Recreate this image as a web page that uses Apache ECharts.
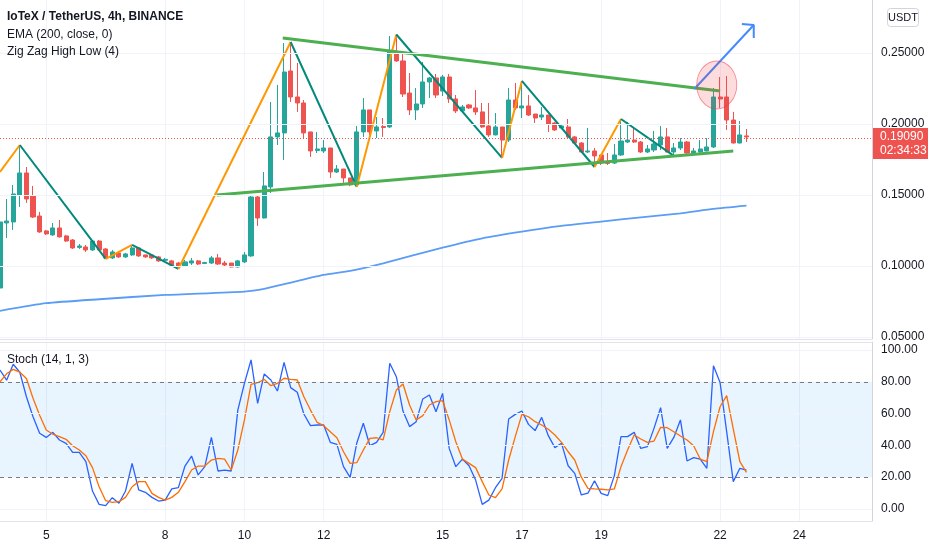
<!DOCTYPE html>
<html><head><meta charset="utf-8">
<script src="https://cdn.jsdelivr.net/npm/echarts@6/dist/echarts.min.js"></script>
<style>html,body{margin:0;padding:0;background:#fff}#c{width:932px;height:550px}</style>
</head><body><div id="c"></div>
<script>
// ---------- DATA ----------
// candles: [open, close, low, high]
const ohlc = [
[0.0845,0.1310,0.0831,0.1310],[0.1303,0.1317,0.1197,0.1472],[0.1310,0.1507,0.1254,0.1571],[0.1500,0.1655,0.1416,0.1852],[0.1655,0.1472,0.1444,0.1697],
[0.1493,0.1345,0.1338,0.1564],[0.1352,0.1240,0.1233,0.1381],[0.1247,0.1226,0.1219,0.1254],[0.1219,0.1268,0.1212,0.1303],[0.1268,0.1205,0.1200,0.1324],
[0.1212,0.1176,0.1169,0.1219],[0.1183,0.1127,0.1120,0.1190],[0.1131,0.1141,0.1120,0.1155],[0.1134,0.1113,0.1099,0.1148],[0.1113,0.1176,0.1106,0.1183],
[0.1176,0.1113,0.1106,0.1183],[0.1120,0.1057,0.1050,0.1127],[0.1057,0.1099,0.1050,0.1113],[0.1092,0.1064,0.1057,0.1099],[0.1064,0.1085,0.1057,0.1092],
[0.1078,0.1127,0.1071,0.1148],[0.1127,0.1071,0.1064,0.1134],[0.1078,0.1064,0.1057,0.1078],[0.1078,0.1057,0.1050,0.1085],[0.1064,0.1036,0.1029,0.1071],
[0.1040,0.1047,0.1029,0.1057],[0.1036,0.1007,0.1000,0.1043],[0.1021,0.0993,0.0979,0.1029],[0.1000,0.1029,0.0993,0.1043],[0.1021,0.1036,0.1007,0.1057],
[0.1036,0.1014,0.1007,0.1043],[0.1018,0.1025,0.1014,0.1029],[0.1021,0.1057,0.1014,0.1071],[0.1057,0.1014,0.1007,0.1085],[0.1021,0.1007,0.1000,0.1036],
[0.1021,0.0993,0.0990,0.1021],[0.0993,0.1036,0.0990,0.1043],[0.1029,0.1078,0.1021,0.1099],[0.1071,0.1486,0.1065,0.1500],[0.1486,0.1338,0.1282,0.1493],
[0.1338,0.1564,0.1335,0.1662],[0.1557,0.1909,0.1514,0.2155],[0.1909,0.1937,0.1852,0.2275],[0.1937,0.2366,0.1747,0.2570],[0.2373,0.2190,0.2155,0.2577],
[0.2190,0.2148,0.2085,0.2430],[0.2148,0.1937,0.1901,0.2169],[0.1944,0.1810,0.1768,0.1944],[0.1814,0.1824,0.1796,0.1944],[0.1810,0.1831,0.1796,0.1887],
[0.1831,0.1662,0.1620,0.1831],[0.1662,0.1683,0.1655,0.1711],[0.1683,0.1620,0.1585,0.1683],[0.1620,0.1571,0.1562,0.1620],[0.1571,0.1944,0.1557,0.1986],
[0.1944,0.2099,0.1909,0.2183],[0.2099,0.1944,0.1901,0.2099],[0.1951,0.1979,0.1901,0.2049],[0.1982,0.1975,0.1909,0.2042],[0.1979,0.2507,0.1972,0.2620],
[0.2507,0.2444,0.2437,0.2630],[0.2444,0.2211,0.2190,0.2500],[0.2218,0.2099,0.2063,0.2359],[0.2099,0.2141,0.2028,0.2253],[0.2141,0.2296,0.2113,0.2437],
[0.2296,0.2324,0.2183,0.2331],[0.2324,0.2204,0.2183,0.2352],[0.2232,0.2331,0.2197,0.2345],[0.2331,0.2176,0.2148,0.2352],[0.2176,0.2092,0.2077,0.2204],
[0.2092,0.2120,0.2085,0.2134],[0.2134,0.2113,0.2106,0.2141],[0.2113,0.2085,0.2063,0.2239],[0.2085,0.1979,0.1972,0.2148],[0.1986,0.1923,0.1909,0.2148],
[0.1923,0.1979,0.1920,0.2077],[0.1979,0.1887,0.1761,0.1979],[0.1887,0.2169,0.1873,0.2253],[0.2169,0.2113,0.2099,0.2289],[0.2113,0.2127,0.2042,0.2303],
[0.2127,0.2063,0.2056,0.2204],[0.2070,0.2042,0.2007,0.2070],[0.2049,0.2063,0.2028,0.2120],[0.2063,0.2000,0.1944,0.2063],[0.2007,0.1958,0.1951,0.2014],
[0.1972,0.1986,0.1965,0.1993],[0.1979,0.1909,0.1901,0.2035],[0.1909,0.1866,0.1859,0.1916],[0.1866,0.1803,0.1796,0.1873],[0.1803,0.1810,0.1796,0.1972],
[0.1810,0.1775,0.1697,0.1831],[0.1782,0.1725,0.1711,0.1782],[0.1733,0.1722,0.1711,0.1796],[0.1725,0.1782,0.1718,0.1859],[0.1782,0.1880,0.1775,0.2035],
[0.1873,0.1887,0.1866,0.2014],[0.1887,0.1873,0.1866,0.1979],[0.1873,0.1803,0.1796,0.1880],[0.1803,0.1824,0.1796,0.1852],[0.1817,0.1859,0.1803,0.1951],
[0.1852,0.1909,0.1817,0.1986],[0.1909,0.1803,0.1800,0.1972],[0.1803,0.1831,0.1775,0.1866],[0.1831,0.1873,0.1817,0.1901],[0.1873,0.1796,0.1789,0.1880],
[0.1796,0.1810,0.1789,0.1831],[0.1803,0.1824,0.1796,0.1887],[0.1810,0.1838,0.1807,0.1901],[0.1838,0.2190,0.1831,0.2253],[0.2190,0.2176,0.2113,0.2331],
[0.2190,0.2028,0.1958,0.2338],[0.2028,0.1866,0.1863,0.2085],[0.1866,0.1923,0.1863,0.2021],[0.1916,0.1909,0.1873,0.1965]
];
// EMA(200) read points: [candle index, value]
const ema = [[0,0.0684],[7,0.0738],[15,0.0766],[25,0.0796],[37,0.0820],[40,0.0839],[43,0.0872],[49,0.0937],[53,0.0965],[58,0.1019],
[67,0.1129],[73,0.1195],[79,0.1242],[85,0.1282],[91,0.1312],[97,0.1343],[103,0.1371],[108,0.1402],[113,0.1425]];
// Zig Zag pivots
const zzIdx = [0,3,16,20,27,44,54,60,76,79,90,94,102];
const zzVal = [0.1662,0.1852,0.1050,0.1148,0.0979,0.2577,0.1557,0.2630,0.1761,0.2303,0.1697,0.2035,0.1775];
// Drawings (candle index, price)
const trendUpper = [[42.8,0.2605],[109.0,0.2232]];
const trendLower = [[32.8,0.1500],[111.0,0.1810]];
const arrowShaft = [[105.1,0.2246],[114.1,0.2697]];
const arrowHead = [[112.3,0.2704],[114.1,0.2697],[114.1,0.2605]];
const circlePt = [[108.5,0.2275]];
// Stochastic
const stochK = [87.4,81,91,86,70.6,58,47.6,45,48.2,43.4,
41.3,35.6,35.6,29.8,11.3,2.9,2.1,7.1,3.6,11.3,
28.7,12,10.5,7.3,5,5.6,12.6,13.4,27,33.3,
21.4,26.6,45,23.9,24.5,23.9,62.2,79,93.7,66.4,
84.9,81.1,74.2,92.2,76.3,73.4,59.7,52.4,52.8,52.8,
41.9,40.6,26.6,19.9,41.3,53.9,39.8,41.9,48.2,91.6,
83.2,61.6,51.8,54.9,69.2,71.7,61.2,72.7,38.1,26.6,
31.4,27.2,18.2,2.9,5.6,13.4,19.3,56.6,59.5,61.6,
53.2,49.3,57.6,46.1,38.6,41.3,27.2,22.4,8.8,10,
17.8,9.8,8.4,21,45.5,45.5,48.2,38.1,39.2,50.7,
63.7,38.1,45,56,30.2,32.3,31.4,25.6,90.1,79.6,
48.6,17.2,25.6,24.5];
const stochD = [80,85,87.8,86,82,69.6,59,49.7,47,45.5,
43.8,39.8,37.1,33.5,26,14,5.2,4.2,4.6,7.3,
14,17.2,17.2,9.8,7.3,5.6,7.3,10.5,17.2,24.5,
27,27,30.8,31.8,31.4,24.5,37.1,56,78.4,79.4,
81.5,77.5,79,82.2,81.5,81.1,70.6,62.2,54.5,52.4,
48.6,44.8,36,28.7,29.1,37.1,44.4,44.8,43.4,61.2,
74.8,78.6,65.4,56,58.7,65.4,67.5,68.1,56,42.3,
31.4,28.7,26,17.2,8.8,7.1,12.6,30.8,45.5,59.5,
58,54.9,52.8,50.1,46.5,41.9,36,30.8,20,13,
12.6,12.4,12,12.6,26.6,37.1,46.5,44,41.9,42.7,
51.3,51.1,48.6,45.9,43.4,39.8,31.4,29.8,48.6,64.3,
71.3,50.3,29.8,23];
// Axis ticks
const priceTicks = [0.05,0.10,0.15,0.20,0.25];
const stochTicks = [0,20,40,60,80,100];
const dayTicks = ['5','8','10','12','15','17','19','22','24'];
const slotCount = 133; // candle slots incl. empty space on right
// categories: 4h candles, first candle = day 3 20:00
const cats = [];
for (let i = 0; i < slotCount; i++) {
  const h = (i - 1) * 4;
  const day = 4 + Math.floor(h / 24);
  const hr = ((h % 24) + 24) % 24;
  cats.push(day + ' ' + String(hr).padStart(2,'0') + ':00');
}
const isDayTick = (idx) => { const c = cats[idx]; if (!c) return false; const p = c.split(' '); return p[1] === '00:00' && dayTicks.indexOf(p[0]) >= 0; };

// ---------- CHART ----------
const FONT = "'Liberation Sans Narrow','Liberation Sans',Arial,sans-serif";
const TXT = '#131722', GRID = '#f0f3fa', BORDER = '#e0e3eb';
const chart = echarts.init(document.getElementById('c'), null, {renderer:'canvas'});

const zigzagSeries = [];
for (let k = 0; k < zzIdx.length - 1; k++) {
  const up = zzVal[k+1] > zzVal[k];
  zigzagSeries.push({type:'line', xAxisIndex:0, yAxisIndex:0, silent:true, symbol:'none', z:3,
    data:[[zzIdx[k], zzVal[k]],[zzIdx[k+1], zzVal[k+1]]],
    lineStyle:{color: up ? '#ff9800' : '#00897b', width:2}});
}
const lastClose = ohlc[ohlc.length-1][1];

const option = {
  animation:false,
  textStyle:{fontFamily:FONT},
  grid:[{left:0,right:60,top:0,height:339},{left:0,right:60,top:342,height:179}],
  xAxis:[
    {type:'category',gridIndex:0,data:cats,boundaryGap:false,axisLine:{show:true,onZero:false,lineStyle:{color:BORDER}},axisTick:{show:false},axisLabel:{show:false},
     splitLine:{show:true,interval:(i)=>isDayTick(i),lineStyle:{color:GRID,width:1}}},
    {type:'category',gridIndex:1,data:cats,boundaryGap:false,axisLine:{show:true,onZero:false,lineStyle:{color:BORDER}},axisTick:{show:false},
     axisLabel:{show:true,interval:(i)=>isDayTick(i),formatter:(v)=>v.split(' ')[0],color:TXT,fontSize:12,margin:9,fontFamily:FONT},
     splitLine:{show:true,interval:(i)=>isDayTick(i),lineStyle:{color:GRID,width:1}}},
    {type:'value',gridIndex:0,min:0,max:slotCount-1,show:false},
    {type:'category',gridIndex:1,data:cats,position:'top',boundaryGap:false,axisLine:{show:true,onZero:false,lineStyle:{color:BORDER}},axisTick:{show:false},axisLabel:{show:false},splitLine:{show:false}}
  ],
  yAxis:[
    {type:'value',gridIndex:0,position:'right',min:0.0486,max:0.2873,axisLine:{show:true,onZero:false,lineStyle:{color:'#d1d4dc'}},axisTick:{show:false},splitLine:{show:false},
     axisLabel:{customValues:priceTicks,formatter:(v)=>v.toFixed(5),color:TXT,fontSize:12,margin:9,fontFamily:FONT}},
    {type:'value',gridIndex:1,position:'right',min:-7.55,max:105,axisLine:{show:true,onZero:false,lineStyle:{color:'#d1d4dc'}},axisTick:{show:false},splitLine:{show:false},
     axisLabel:{customValues:stochTicks,formatter:(v)=>v.toFixed(2),color:TXT,fontSize:12,margin:9,fontFamily:FONT}}
  ],
  series:[
    {type:'line',xAxisIndex:0,yAxisIndex:0,data:[],silent:true,z:0,
     markLine:{silent:true,symbol:'none',label:{show:false},lineStyle:{color:GRID,type:'solid',width:1},data:priceTicks.map(v=>({yAxis:v}))}},
    {type:'line',xAxisIndex:1,yAxisIndex:1,data:[],silent:true,z:0,
     markArea:{silent:true,itemStyle:{color:'rgba(33,150,243,0.1)'},data:[[{yAxis:20},{yAxis:80}]]},
     markLine:{silent:true,symbol:'none',label:{show:false},data:[
       {yAxis:100,lineStyle:{color:GRID,type:'solid',width:1}},
       {yAxis:60,lineStyle:{color:GRID,type:'solid',width:1}},
       {yAxis:40,lineStyle:{color:GRID,type:'solid',width:1}},
       {yAxis:0,lineStyle:{color:GRID,type:'solid',width:1}},
       {yAxis:80,lineStyle:{color:'#787b86',type:[4,4],width:1}},
       {yAxis:20,lineStyle:{color:'#787b86',type:[4,4],width:1}}]}},
    {type:'candlestick',name:'IOTXUSDT',xAxisIndex:0,yAxisIndex:0,data:ohlc,barWidth:4.6,z:2,
     itemStyle:{color:'#26a69a',color0:'#ef5350',borderColor:'#26a69a',borderColor0:'#ef5350',borderWidth:1},
     markLine:{silent:true,symbol:'none',label:{show:false},lineStyle:{color:'#ef5350',type:[1,2],width:1},data:[{yAxis:lastClose}]}},
    {type:'line',name:'EMA',xAxisIndex:0,yAxisIndex:0,data:ema,symbol:'none',smooth:0.2,silent:true,z:3,
     lineStyle:{color:'#5b9cf6',width:1.8}},
    ...zigzagSeries,
    {type:'line',xAxisIndex:2,yAxisIndex:0,data:trendUpper,symbol:'none',silent:true,z:4,lineStyle:{color:'#4caf50',width:3}},
    {type:'line',xAxisIndex:2,yAxisIndex:0,data:trendLower,symbol:'none',silent:true,z:4,lineStyle:{color:'#4caf50',width:3}},
    {type:'line',xAxisIndex:2,yAxisIndex:0,data:arrowShaft,symbol:'none',silent:true,z:5,lineStyle:{color:'#448aff',width:2}},
    {type:'line',xAxisIndex:2,yAxisIndex:0,data:arrowHead,symbol:'none',silent:true,z:5,lineStyle:{color:'#448aff',width:2}},
    {type:'scatter',xAxisIndex:2,yAxisIndex:0,data:circlePt,symbol:'circle',symbolSize:[40,48],silent:true,z:5,
     itemStyle:{color:'rgba(242,54,69,0.22)',borderColor:'rgba(242,54,69,0.65)',borderWidth:1}},
    {type:'line',name:'%K',xAxisIndex:1,yAxisIndex:1,data:stochK,symbol:'none',silent:true,z:3,lineStyle:{color:'#2962ff',width:1.3}},
    {type:'line',name:'%D',xAxisIndex:1,yAxisIndex:1,data:stochD,symbol:'none',silent:true,z:4,lineStyle:{color:'#ff6d00',width:1.3}}
  ]
};
chart.setOption(option);
// place the last-price tag where the library's price scale puts the last close
const py = chart.convertToPixel({yAxisIndex:0}, lastClose);
chart.setOption({graphic:{elements:[
  {type:'text',left:7,top:11,z:100,style:{text:'IoTeX / TetherUS, 4h, BINANCE',fill:TXT,font:'600 12px '+FONT}},
  {type:'text',left:7,top:29,z:100,style:{text:'EMA (200, close, 0)',fill:TXT,font:'12px '+FONT}},
  {type:'text',left:7,top:46,z:100,style:{text:'Zig Zag High Low (4)',fill:TXT,font:'12px '+FONT}},
  {type:'text',left:7,top:354,z:100,style:{text:'Stoch (14, 1, 3)',fill:TXT,font:'12px '+FONT}},
  {type:'group',left:887,top:8,z:100,children:[
    {type:'rect',shape:{x:0,y:0,width:31,height:18,r:3},style:{fill:'#fff',stroke:'#d1d4dc',lineWidth:1}},
    {type:'text',x:15.5,y:9,style:{text:'USDT',fill:TXT,font:'11px '+FONT,textAlign:'center',textVerticalAlign:'middle'}}
  ]},
  {type:'group',left:872,top:py-9,z:120,children:[
    {type:'rect',shape:{x:0,y:0,width:56,height:31},style:{fill:'#ef5350'}},
    {type:'text',x:8,y:9,style:{text:lastClose.toFixed(5),fill:'#fff',font:'12px '+FONT,textVerticalAlign:'middle'}},
    {type:'text',x:8,y:23,style:{text:'02:34:33',fill:'#fff',font:'12px '+FONT,textVerticalAlign:'middle'}}
  ]}
]}});
</script></body></html>
